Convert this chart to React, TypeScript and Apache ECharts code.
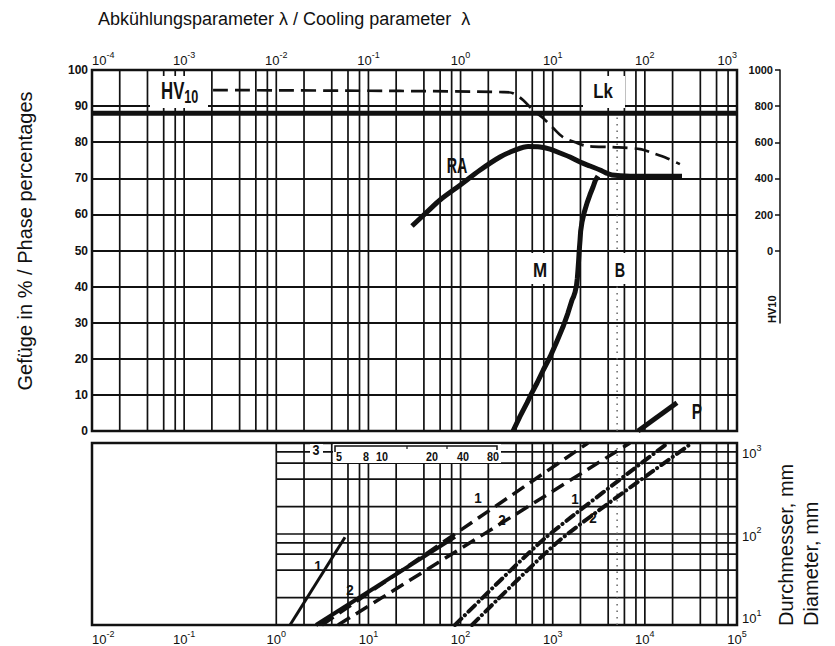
import React, { useEffect, useRef } from "react";
import * as echarts from "echarts";

// ---------- Upper diagram: phase percentages vs cooling parameter λ ----------
const raLambda = [0.297, 0.433, 0.598, 0.986, 1.63, 2.68, 3.9, 5.4, 7.28, 9.35, 12.0, 15.4, 19.8, 25.4, 32.6, 37.8, 44.0, 69.1, 253];
const raPct = [56.8, 60.7, 64.0, 68.1, 72.3, 75.9, 77.8, 78.8, 78.7, 78.1, 77.0, 75.9, 74.5, 73.4, 72.3, 71.5, 70.9, 70.6, 70.6];

const mLambda = [31.0, 28.9, 27.4, 25.4, 23.6, 22.0, 20.8, 20.1, 19.8, 19.4, 19.1, 18.8, 18.5, 18.1, 17.5, 16.9, 16.2, 14.6, 12.9, 11.0, 9.35, 7.9, 6.76, 5.9, 5.26, 4.4, 3.71];
const mPct = [70.6, 69.3, 67.6, 65.5, 63.2, 60.6, 57.9, 55.4, 52.9, 50.0, 47.1, 44.6, 42.3, 40.3, 38.5, 37.3, 36.3, 32.6, 28.8, 24.6, 20.5, 16.9, 13.3, 10.4, 7.8, 4.0, 0];

const pLambda = [84.3, 223];
const pPct = [0, 7.8];

// hardness HV10 (right axis)
const hvLambda = [0.00206, 0.22, 2.89, 3.71, 4.76, 6.11, 7.85, 10.1, 12.9, 18.4, 23.6, 45.1, 88.5, 122, 174, 240];
const hvValues = [889, 884, 878, 872, 834, 778, 734, 679, 629, 596, 579, 573, 562, 540, 512, 479];

const hvRefLambda = [1e-4, 1e3];
const hvRefValues = [760, 760];

const refLambda = 50; // dotted reference line (λ); lower diagram at t = 100·λ

// ---------- Lower diagram: diameter (mm) vs time ----------
const solid1T = [1.41, 5.57];
const solid1D = [10, 92];
const solid2T = [2.7, 87];
const solid2D = [10, 93];
const dash1T = [3.13, 2415];
const dash1D = [10, 1000];
const dash2T = [4.68, 6900];
const dash2D = [10, 1000];
const dd1T = [87, 824, 17800];
const dd1D = [10, 90, 1000];
const dd2T = [133, 1200, 32500];
const dd2D = [10, 86, 1000];

// ---------- grid / tick definitions ----------
const gridMultipliers = [1, 2, 4, 6, 8];
const upperDecades = [-4, -3, -2, -1, 0, 1, 2];
const lowerDecades = [0, 1, 2, 3, 4];
const lowerHLines = [20, 40, 60, 80, 100, 200, 400, 600, 800];
const hvTicks = [0, 200, 400, 600, 800, 1000];
const insetLabels = ["5", "8", "10", "20", "40", "80"];
const insetLabelX = [339, 366, 382, 432, 463, 493];

const FONT = "'Liberation Sans', Arial, Helvetica, sans-serif";
const INK = "#111";

const pts = (xs: number[], ys: number[]) => xs.map((x, i) => [x, ys[i]]);

const upperV = upperDecades
  .flatMap((e) => gridMultipliers.map((m) => m * Math.pow(10, e)))
  .filter((v) => v > 1.01e-4);
const lowerV = lowerDecades.flatMap((e) => gridMultipliers.map((m) => m * Math.pow(10, e)));

const powFmt = (v: number) => `{b|10}{s|${Math.round(Math.log10(v))}}`;
const powRich = {
  b: { fontSize: 13, fontFamily: FONT, color: INK, lineHeight: 17, verticalAlign: "bottom" },
  s: { fontSize: 9, fontFamily: FONT, color: INK, lineHeight: 17, verticalAlign: "top" },
};

const gridLineStyle = { color: INK, width: 1.7, type: "solid" as const };

function segSeries(xIdx: number, yIdx: number, segs: number[][][], style: any = gridLineStyle) {
  return segs.map((seg) => ({
    type: "line",
    xAxisIndex: xIdx,
    yAxisIndex: yIdx,
    data: seg,
    symbol: "none",
    silent: true,
    z: 1,
    lineStyle: style,
  }));
}

function curve(xIdx: number, yIdx: number, data: number[][], width: number, type: any = "solid", smooth: number | boolean = false, cap = "butt") {
  return {
    type: "line",
    xAxisIndex: xIdx,
    yAxisIndex: yIdx,
    data,
    symbol: "none",
    smooth,
    z: 5,
    lineStyle: { color: INK, width, type, cap, join: "round" },
  };
}

const boldLabel = (text: string, cx: number, cy: number, size: number, sx: number) => ({
  type: "text",
  x: cx,
  y: cy,
  scaleX: sx,
  z: 60,
  style: { text, fontSize: size, fontWeight: "bold", fontFamily: FONT, fill: INK, align: "center", verticalAlign: "middle" },
});

const whiteBox = (x: number, y: number, w: number, h: number) => ({
  type: "rect",
  shape: { x, y, width: w, height: h },
  z: 50,
  style: { fill: "#fff" },
});

const dotted = { color: "#666", width: 1.5, type: [1.5, 5] };

const option: any = {
  animation: false,
  backgroundColor: "#fff",
  textStyle: { fontFamily: FONT },
  grid: [
    { left: 92, top: 70, width: 645, height: 361, show: true, borderColor: INK, borderWidth: 2.5 },
    { left: 92, top: 70, width: 645, height: 253, show: false },
    { left: 92, top: 443, width: 645, height: 182, show: true, borderColor: INK, borderWidth: 2.5 },
  ],
  xAxis: [
    {
      type: "log", logBase: 10, gridIndex: 0, min: 1e-4, max: 1e3, splitNumber: 7, position: "top",
      axisLine: { show: false }, axisTick: { show: false }, splitLine: { show: false },
      axisLabel: { formatter: powFmt, rich: powRich, margin: 3, alignMinLabel: "left", alignMaxLabel: "right" },
    },
    { type: "log", logBase: 10, gridIndex: 1, min: 1e-4, max: 1e3, show: false },
    {
      type: "log", logBase: 10, gridIndex: 2, min: 1e-2, max: 1e5, splitNumber: 7, position: "bottom",
      axisLine: { show: false }, axisTick: { show: false }, splitLine: { show: false },
      axisLabel: { formatter: powFmt, rich: powRich, margin: 4, alignMinLabel: "left" },
    },
  ],
  yAxis: [
    {
      type: "value", gridIndex: 0, min: 0, max: 100, interval: 10,
      axisLine: { show: false }, axisTick: { show: false },
      splitLine: { show: true, lineStyle: { color: INK, width: 1.8 } },
      axisLabel: { fontSize: 12, fontWeight: "bold", color: INK, margin: 4, fontFamily: FONT },
    },
    {
      type: "value", gridIndex: 1, min: -400, max: 1000, interval: 200, position: "right", offset: 43,
      axisLine: { show: true, onZero: false, lineStyle: { color: INK, width: 1.5 } },
      axisTick: { show: true, inside: true, length: 5, customValues: hvTicks, lineStyle: { color: INK, width: 1.5 } },
      axisLabel: {
        inside: true, customValues: hvTicks, margin: 7, fontSize: 11, fontWeight: "bold", color: INK, fontFamily: FONT,
        formatter: (v: number) => (v < 0 ? "" : String(v)),
      },
      splitLine: { show: false },
    },
    {
      type: "log", logBase: 10, gridIndex: 2, min: 10, max: 1000, splitNumber: 2, position: "right",
      axisLine: { show: false }, axisTick: { show: false }, splitLine: { show: false },
      axisLabel: { formatter: powFmt, rich: powRich, margin: 5, verticalAlignMinLabel: "bottom", verticalAlignMaxLabel: "top" },
    },
  ],
  series: [
    // grid lines
    ...segSeries(0, 0, upperV.map((v) => [[v, 0], [v, 100]])),
    ...segSeries(2, 2, lowerV.map((v) => [[v, 10], [v, 1000]])),
    ...segSeries(2, 2, lowerHLines.map((v) => [[1, v], [1e5, v]])),
    ...segSeries(0, 0, [[[refLambda, 0], [refLambda, 89]]], dotted),
    ...segSeries(2, 2, [[[refLambda * 100, 10], [refLambda * 100, 1000]]], dotted),
    // upper curves
    curve(1, 1, pts(hvRefLambda, hvRefValues), 5),
    curve(1, 1, pts(hvLambda, hvValues), 2.7, [15, 7], 0.3),
    curve(0, 0, pts(raLambda, raPct), 5, "solid", 0.3),
    curve(0, 0, pts(mLambda, mPct), 5, "solid", false),
    curve(0, 0, pts(pLambda, pPct), 5),
    // lower curves
    curve(2, 2, pts(solid1T, solid1D), 3),
    curve(2, 2, pts(solid2T, solid2D), 4),
    curve(2, 2, pts(dash1T, dash1D), 3.5, [14, 7]),
    curve(2, 2, pts(dash2T, dash2D), 3.5, [14, 7]),
    curve(2, 2, pts(dd1T, dd1D), 4, [9, 5, 0.1, 5], 0.2, "round"),
    curve(2, 2, pts(dd2T, dd2D), 4, [9, 5, 0.1, 5], 0.2, "round"),
  ],
  graphic: [
    // titles
    { type: "text", x: 98, y: 10, style: { text: "Abkühlungsparameter λ / Cooling parameter  λ", fontSize: 18, fontFamily: FONT, fill: INK } },
    { type: "text", x: 25, y: 241, rotation: Math.PI / 2, style: { text: "Gefüge in % / Phase percentages", fontSize: 20, fontFamily: FONT, fill: INK, align: "center", verticalAlign: "middle" } },
    { type: "text", x: 786, y: 626, rotation: Math.PI / 2, style: { text: "Durchmesser, mm", fontSize: 20, fontFamily: FONT, fill: INK, align: "left", verticalAlign: "middle" } },
    { type: "text", x: 811, y: 626, rotation: Math.PI / 2, style: { text: "Diameter, mm", fontSize: 20, fontFamily: FONT, fill: INK, align: "left", verticalAlign: "middle" } },
    { type: "text", x: 772, y: 323, rotation: Math.PI / 2, style: { text: "HV10", fontSize: 11, fontWeight: "bold", fontFamily: FONT, fill: INK, align: "left", verticalAlign: "middle" } },
    // upper labels
    whiteBox(150, 76, 58, 32),
    {
      type: "text", x: 161, y: 92, scaleX: 0.7, z: 60,
      style: {
        text: "{a|HV}{b|10}", fontFamily: FONT, fill: INK, align: "left", verticalAlign: "middle",
        rich: {
          a: { fontSize: 24, fontWeight: "bold", fontFamily: FONT, lineHeight: 27, verticalAlign: "top" },
          b: { fontSize: 18, fontWeight: "bold", fontFamily: FONT, lineHeight: 27, verticalAlign: "bottom" },
        },
      },
    },
    whiteBox(583, 76, 42, 32),
    boldLabel("Lk", 603, 91, 21, 0.8),
    boldLabel("RA", 457, 165, 22, 0.65),
    whiteBox(527, 253, 23, 31),
    boldLabel("M", 540, 270, 20, 0.85),
    whiteBox(611, 253, 20, 31),
    boldLabel("B", 620, 270, 20, 0.72),
    boldLabel("P", 697, 411, 22, 0.7),
    // lower labels
    boldLabel("1", 318, 566, 15, 0.9),
    boldLabel("2", 350, 590, 15, 0.9),
    boldLabel("1", 478, 498, 15, 0.9),
    boldLabel("2", 502, 520, 15, 0.9),
    boldLabel("1", 575, 499, 15, 0.9),
    boldLabel("2", 593, 518, 15, 0.9),
    // inset scale "3"
    whiteBox(333, 444, 168, 19),
    whiteBox(310, 444, 13, 13),
    boldLabel("3", 316, 450, 14, 0.9),
    { type: "polyline", z: 61, shape: { points: [[335, 452], [335, 446], [497, 446], [497, 450]] }, style: { stroke: INK, lineWidth: 1.5, fill: "none" } },
    { type: "line", z: 61, shape: { x1: 407, y1: 446, x2: 407, y2: 449 }, style: { stroke: INK, lineWidth: 1.2 } },
    { type: "line", z: 61, shape: { x1: 447, y1: 446, x2: 447, y2: 449 }, style: { stroke: INK, lineWidth: 1.2 } },
    ...insetLabels.map((t, i) => boldLabel(t, insetLabelX[i], 457, 12, 0.9)),
  ],
};

export default function App() {
  const ref = useRef<HTMLDivElement>(null);
  useEffect(() => {
    document.body.style.margin = "0";
    if (!ref.current) return;
    const chart = echarts.init(ref.current, null, { renderer: "svg" });
    chart.setOption(option);
    return () => chart.dispose();
  }, []);
  return <div ref={ref} style={{ position: "absolute", left: 0, top: 0, width: 835, height: 646 }} />;
}
